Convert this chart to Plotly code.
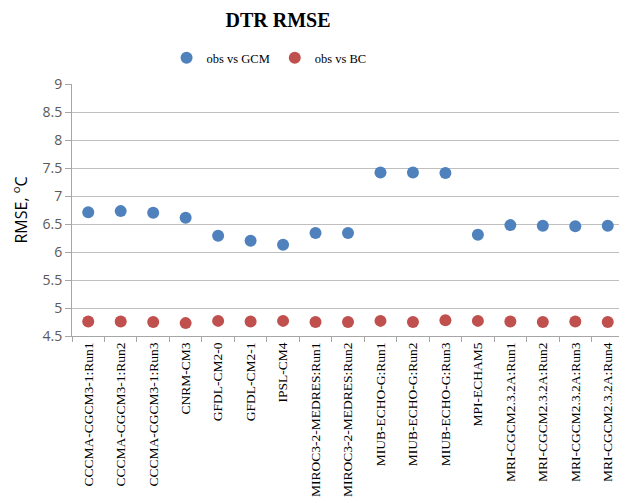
import plotly.graph_objects as go

models = ["CCCMA-CGCM3-1:Run1", "CCCMA-CGCM3-1:Run2", "CCCMA-CGCM3-1:Run3", "CNRM-CM3",
          "GFDL-CM2-0", "GFDL-CM2-1", "IPSL-CM4", "MIROC3-2-MEDRES:Run1", "MIROC3-2-MEDRES:Run2",
          "MIUB-ECHO-G:Run1", "MIUB-ECHO-G:Run2", "MIUB-ECHO-G:Run3", "MPI-ECHAM5",
          "MRI-CGCM2.3.2A:Run1", "MRI-CGCM2.3.2A:Run2", "MRI-CGCM2.3.2A:Run3", "MRI-CGCM2.3.2A:Run4"]
obs_vs_gcm = [6.71, 6.73, 6.70, 6.61, 6.29, 6.20, 6.13, 6.34, 6.34, 7.42, 7.42, 7.41, 6.31,
              6.48, 6.47, 6.46, 6.47]
obs_vs_bc = [4.76, 4.76, 4.75, 4.73, 4.77, 4.76, 4.77, 4.75, 4.75, 4.77, 4.75, 4.78, 4.77,
             4.76, 4.75, 4.76, 4.75]
y_ticks = [4.5, 5, 5.5, 6, 6.5, 7, 7.5, 8, 8.5, 9]

serif = "Liberation Serif, DejaVu Serif, serif"
sans = "Open Sans, Liberation Sans, sans-serif"

W, H = 619, 496

fig = go.Figure()
fig.add_trace(go.Scatter(x=models, y=obs_vs_gcm, mode="markers", name="obs vs GCM",
                         marker=dict(color="#4F81BD", size=12)))
fig.add_trace(go.Scatter(x=models, y=obs_vs_bc, mode="markers", name="obs vs BC",
                         marker=dict(color="#C0504D", size=12)))

fig.update_layout(
    width=W, height=H,
    margin=dict(l=64, r=3, t=76, b=168, autoexpand=False),
    paper_bgcolor="white", plot_bgcolor="white",
    title=dict(text="<b>DTR RMSE</b>", x=270 / W, xanchor="center", y=1 - 12 / H, yanchor="middle",
               font=dict(family=serif, size=20, color="black")),
    legend=dict(orientation="h", x=0.357, xanchor="center", y=1.103, yanchor="middle",
                font=dict(family=serif, size=12.5, color="black"), itemwidth=30,
                traceorder="normal"),
    showlegend=True,
)
fig.update_xaxes(type="category", range=[-0.5, len(models) - 0.5], tickangle=-90,
                 showgrid=False, automargin=False,
                 showline=True, linecolor="#A6A6A6", linewidth=1,
                 ticks="outside", tickson="boundaries", ticklen=5, tickcolor="#A6A6A6",
                 tickfont=dict(family=serif, size=13.5, color="black"))
fig.update_yaxes(range=[4.5, 9], tickvals=y_ticks, ticktext=[f"{v:g}" for v in y_ticks],
                 automargin=False,
                 showgrid=True, gridcolor="#BFBFBF", gridwidth=1,
                 showline=True, linecolor="#A6A6A6", linewidth=1,
                 ticks="outside", ticklen=6, tickcolor="#A6A6A6",
                 tickfont=dict(family=sans, size=14, color="#595959"),
                 title=dict(text="RMSE, <sup>o</sup>C", font=dict(family=sans, size=16, color="black"),
                            standoff=12),
                 zeroline=False)

fig.write_html("out.html")
